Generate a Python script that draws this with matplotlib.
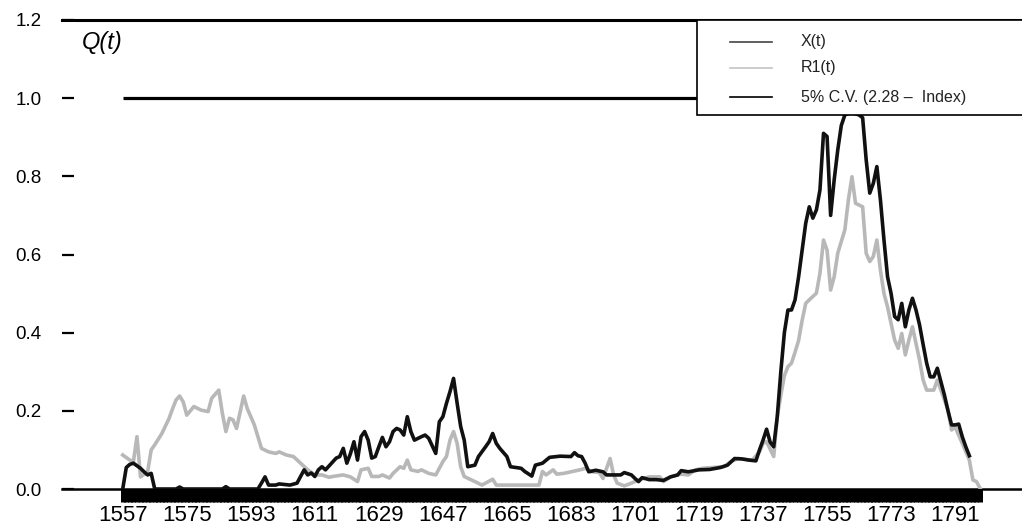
import matplotlib
matplotlib.use('Agg')
import matplotlib.pyplot as plt
from matplotlib.patches import Rectangle
from matplotlib.lines import Line2D

plt.rcParams['font.family'] = ['Liberation Sans', 'DejaVu Sans']

# R1(t), grey series
r1_years = [1557, 1559, 1560, 1561, 1562, 1564, 1565, 1566, 1568, 1570, 1571, 1572,
            1573, 1574, 1575, 1577, 1579, 1581, 1582, 1584, 1585, 1586, 1587, 1588,
            1589, 1591, 1592, 1594, 1595, 1596, 1598, 1600, 1601, 1603, 1605, 1607,
            1609, 1611, 1613, 1615, 1616, 1619, 1621, 1623, 1624, 1626, 1627, 1629,
            1630, 1632, 1633, 1635, 1636, 1637, 1638, 1640, 1641, 1643, 1645, 1647,
            1648, 1649, 1650, 1651, 1652, 1653, 1656, 1658, 1661, 1662, 1674, 1675,
            1676, 1678, 1679, 1681, 1683, 1686, 1687, 1689, 1691, 1692, 1694, 1695,
            1696, 1698, 1700, 1702, 1705, 1708, 1709, 1711, 1714, 1716, 1718, 1720,
            1723, 1726, 1728, 1730, 1734, 1736, 1737, 1738, 1740, 1741, 1742, 1743,
            1744, 1745, 1746, 1747, 1748, 1749, 1750, 1752, 1753, 1754, 1755, 1756,
            1757, 1758, 1760, 1761, 1762, 1763, 1765, 1766, 1767, 1768, 1769, 1770,
            1771, 1772, 1774, 1775, 1776, 1777, 1778, 1779, 1781, 1782, 1783, 1785,
            1786, 1787, 1789, 1790, 1791, 1793, 1795, 1796, 1797, 1798]
r1_vals = [0.087, 0.074, 0.070, 0.134, 0.031, 0.044, 0.100, 0.113, 0.142, 0.180, 0.205, 0.228,
           0.238, 0.223, 0.189, 0.211, 0.202, 0.198, 0.232, 0.253, 0.194, 0.147, 0.181, 0.177,
           0.155, 0.238, 0.206, 0.164, 0.134, 0.104, 0.095, 0.091, 0.095, 0.087, 0.083, 0.066,
           0.049, 0.036, 0.036, 0.030, 0.032, 0.036, 0.031, 0.019, 0.049, 0.053, 0.032, 0.032,
           0.036, 0.028, 0.040, 0.057, 0.053, 0.074, 0.049, 0.045, 0.049, 0.040, 0.036, 0.070,
           0.083, 0.125, 0.147, 0.117, 0.057, 0.032, 0.019, 0.010, 0.025, 0.010, 0.010, 0.045,
           0.036, 0.049, 0.038, 0.040, 0.044, 0.050, 0.053, 0.044, 0.042, 0.027, 0.078, 0.036,
           0.015, 0.008, 0.015, 0.023, 0.031, 0.031, 0.019, 0.031, 0.038, 0.036, 0.049, 0.053,
           0.055, 0.057, 0.070, 0.078, 0.074, 0.095, 0.117, 0.121, 0.083, 0.185, 0.240, 0.290,
           0.313, 0.322, 0.350, 0.380, 0.432, 0.475, 0.484, 0.501, 0.552, 0.637, 0.611, 0.509,
           0.543, 0.603, 0.663, 0.740, 0.799, 0.731, 0.722, 0.603, 0.582, 0.595, 0.637, 0.560,
           0.500, 0.466, 0.381, 0.360, 0.398, 0.343, 0.381, 0.415, 0.330, 0.279, 0.253, 0.253,
           0.279, 0.253, 0.202, 0.151, 0.159, 0.117, 0.074, 0.023, 0.019, 0.002]

# X(t), black series
x_years = [1557, 1558, 1559, 1560, 1562, 1563, 1564, 1565, 1566, 1572, 1573, 1574,
           1585, 1586, 1587, 1595, 1596, 1597, 1598, 1600, 1601, 1604, 1606, 1608,
           1609, 1610, 1611, 1612, 1613, 1614, 1617, 1618, 1619, 1620, 1621, 1622,
           1623, 1624, 1625, 1626, 1627, 1628, 1629, 1630, 1631, 1632, 1633, 1634,
           1635, 1636, 1637, 1638, 1639, 1641, 1642, 1643, 1645, 1646, 1647, 1648,
           1649, 1650, 1651, 1652, 1653, 1654, 1656, 1657, 1659, 1660, 1661, 1662,
           1663, 1665, 1666, 1669, 1670, 1672, 1673, 1675, 1677, 1680, 1683, 1684,
           1685, 1686, 1687, 1688, 1690, 1692, 1693, 1697, 1698, 1700, 1701, 1702,
           1703, 1705, 1707, 1709, 1711, 1713, 1714, 1716, 1719, 1722, 1725, 1727,
           1729, 1731, 1733, 1735, 1736, 1737, 1738, 1739, 1740, 1741, 1742, 1743,
           1744, 1745, 1746, 1747, 1748, 1749, 1750, 1751, 1752, 1753, 1754, 1755,
           1756, 1757, 1758, 1759, 1760, 1761, 1762, 1763, 1764, 1765, 1766, 1767,
           1768, 1769, 1770, 1771, 1772, 1773, 1774, 1775, 1776, 1777, 1778, 1779,
           1780, 1781, 1782, 1783, 1784, 1785, 1786, 1787, 1788, 1789, 1790, 1791,
           1792, 1793, 1794, 1795]
x_vals = [0.000, 0.055, 0.063, 0.066, 0.053, 0.044, 0.036, 0.040, 0.000, 0.000, 0.005, 0.000,
          0.000, 0.006, 0.000, 0.000, 0.015, 0.031, 0.010, 0.010, 0.013, 0.010, 0.015, 0.049,
          0.036, 0.041, 0.032, 0.049, 0.057, 0.049, 0.079, 0.083, 0.104, 0.066, 0.090, 0.121,
          0.074, 0.134, 0.147, 0.125, 0.079, 0.083, 0.108, 0.132, 0.108, 0.121, 0.147, 0.155,
          0.151, 0.138, 0.185, 0.147, 0.125, 0.134, 0.138, 0.130, 0.091, 0.172, 0.185, 0.219,
          0.249, 0.283, 0.220, 0.160, 0.125, 0.057, 0.061, 0.083, 0.108, 0.121, 0.142, 0.117,
          0.104, 0.083, 0.057, 0.053, 0.045, 0.033, 0.061, 0.066, 0.081, 0.084, 0.083, 0.093,
          0.085, 0.083, 0.066, 0.044, 0.048, 0.044, 0.036, 0.036, 0.042, 0.036, 0.027, 0.019,
          0.029, 0.024, 0.024, 0.022, 0.031, 0.036, 0.047, 0.044, 0.049, 0.050, 0.055, 0.061,
          0.078, 0.077, 0.074, 0.072, 0.100, 0.125, 0.153, 0.120, 0.108, 0.185, 0.300, 0.400,
          0.458, 0.458, 0.484, 0.543, 0.612, 0.680, 0.722, 0.693, 0.714, 0.765, 0.910, 0.902,
          0.700, 0.791, 0.867, 0.930, 0.957, 0.961, 0.965, 0.960, 0.957, 0.950, 0.842, 0.757,
          0.782, 0.825, 0.740, 0.637, 0.543, 0.500, 0.441, 0.433, 0.475, 0.415, 0.458, 0.488,
          0.458, 0.420, 0.370, 0.322, 0.287, 0.287, 0.309, 0.275, 0.240, 0.200, 0.164, 0.164,
          0.166, 0.134, 0.108, 0.085]

# 5% critical value line
cv_years = [1557, 1799]
cv_vals = [1.0, 1.0]

label_years = list(range(1557, 1792, 18))
bar_years = list(range(1557, 1799))
legend_labels = ['X(t)', 'R1(t)', '5% C.V. (2.28 –  Index)']

fig = plt.figure(figsize=(10.22, 5.26), dpi=100)
ax = fig.add_axes([62 / 1022, 37 / 526, 960 / 1022, 469 / 526])

ax.plot(cv_years, cv_vals, color='black', lw=2.3, solid_capstyle='butt', zorder=2)
ax.plot(r1_years, r1_vals, color='#b8b8b8', lw=2.6, zorder=3)
ax.plot(x_years, x_vals, color='#111111', lw=2.6, zorder=4)

ax.set_xlim(1539.93, 1809.8)
ax.set_ylim(0, 1.2)

for s in ['left', 'right']:
    ax.spines[s].set_visible(False)
ax.spines['top'].set_linewidth(2.2)
ax.spines['bottom'].set_linewidth(1.8)

ax.set_yticks([0, 0.2, 0.4, 0.6, 0.8, 1.0, 1.2])
ax.set_yticklabels(['0.0', '0.2', '0.4', '0.6', '0.8', '1.0', '1.2'])
ax.tick_params(axis='y', direction='in', length=8.6, width=1.6, pad=14.5,
               labelsize=13.5)

# one tick per year, thick enough to merge into the solid band of the original
ax.set_xticks(label_years)
ax.set_xticklabels([str(y) for y in label_years])
ax.set_xticks(bar_years, minor=True)
ax.tick_params(axis='x', which='both', direction='out', length=9.4, width=3.6,
               pad=2, labelsize=16)

ax.text(0.021, 0.953, 'Q(t)', transform=ax.transAxes, style='italic',
        fontsize=17, va='center', ha='left')

# legend box drawn by hand so it can run off the right edge like the original
ax.add_patch(Rectangle((0.6615, 0.7974), 0.4, 0.2026, transform=ax.transAxes,
                       facecolor='white', edgecolor='black', lw=1.2,
                       clip_on=False, zorder=6))
handle_colors = ['#444444', '#c4c4c4', '#000000']
row_y = [0.9531, 0.8977, 0.8358]
for lab, c, yy in zip(legend_labels, handle_colors, row_y):
    ax.add_line(Line2D([0.6958, 0.7396], [yy, yy], transform=ax.transAxes,
                       color=c, lw=1.2, clip_on=False, zorder=7))
    ax.text(0.7698, yy, lab, transform=ax.transAxes, fontsize=11.5,
            color='#222222', va='center', ha='left', zorder=7)

plt.savefig('out.png', dpi=100)
